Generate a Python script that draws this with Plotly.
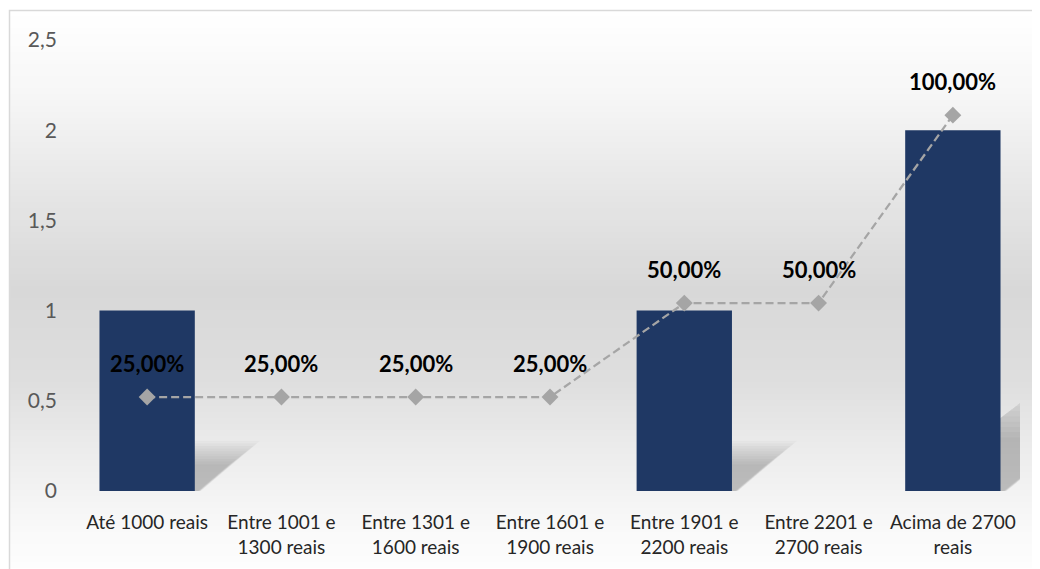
import plotly.graph_objects as go

categories = ["Até 1000 reais", "Entre 1001 e<br>1300 reais", "Entre 1301 e<br>1600 reais",
              "Entre 1601 e<br>1900 reais", "Entre 1901 e<br>2200 reais", "Entre 2201 e<br>2700 reais",
              "Acima de 2700<br>reais"]
counts = [1, 0, 0, 0, 1, 0, 2]
percents = [0.25, 0.25, 0.25, 0.25, 0.50, 0.50, 1.00]
y_ticks = [0, 0.5, 1, 1.5, 2, 2.5]

FONT = "Lato"
W, H = 1040, 569
OX, OY = 8, 8  # page body offset
# plot area in screen pixels
SL, SR, ST, SB = 80, 1020, 40, 491
L, T = SL - OX, ST - OY
R = W - (SR - OX)
B = H - (SB - OY)
PW, PH = SR - SL, SB - ST

def px_to_paper_y(py):
    return (SB - py) / PH

def px_to_paper_x(px):
    return (px - SL) / PW

shapes = []
# vertical gradient background
keys = [(10, 255), (100, 246), (200, 229), (290, 216), (380, 222), (450, 236), (520, 248), (569, 253)]
def shade(py):
    for (a, ca), (b, cb) in zip(keys, keys[1:]):
        if a <= py <= b:
            return ca + (cb - ca) * (py - a) / (b - a)
    return 255
step = 6
py = 10
while py < H:
    c = int(round(shade(py + step / 2)))
    shapes.append(dict(type="rect", xref="paper", yref="paper", layer="below",
                       x0=px_to_paper_x(9), x1=px_to_paper_x(W + 20),
                       y0=px_to_paper_y(min(py + step, H + 10)), y1=px_to_paper_y(py),
                       line=dict(width=0), fillcolor=f"rgb({c},{c},{c})"))
    py += step
# chart border
shapes.append(dict(type="rect", xref="paper", yref="paper", layer="above",
                   x0=px_to_paper_x(9.5), x1=px_to_paper_x(W + 30),
                   y0=px_to_paper_y(H + 30), y1=px_to_paper_y(10.5),
                   line=dict(width=1.5, color="#d9d9d9"), fillcolor="rgba(0,0,0,0)"))
# soft perspective shadows of bars
half = 0.355
for i, v in enumerate(counts):
    if v <= 0:
        continue
    for s in [1.16, 1.1, 1.04, 0.98, 0.92, 0.86, 0.8, 0.74, 0.68, 0.62]:
        hs = 0.24 * v * s
        dx = 0.42 * v * s
        path = (f"M {i - half} 0 L {i + half + 0.04 * s} 0 L {i + half + dx} {hs} "
                f"L {i - half + dx} {hs} Z")
        shapes.append(dict(type="path", xref="x", yref="y", layer="below", path=path,
                           fillcolor="rgba(0,0,0,0.022)", line=dict(width=0)))

fig = go.Figure()
fig.add_trace(go.Bar(x=list(range(len(categories))), y=counts, marker=dict(color="#1f3864", line=dict(width=0)),
                     width=2 * half, hoverinfo="skip"))
fig.add_trace(go.Scatter(x=list(range(len(categories))), y=percents, yaxis="y2", mode="lines+markers",
                         line=dict(color="#a5a5a5", width=2.25, dash="8px,4px"),
                         marker=dict(symbol="diamond", size=13, color="#a5a5a5"), hoverinfo="skip"))

annotations = []
for i, p in enumerate(percents):
    annotations.append(dict(x=i, y=p, xref="x", yref="y2", yshift=34, showarrow=False,
                            text=f"{p * 100:.2f}%".replace(".", ","),
                            font=dict(family=FONT, size=22, color="#000000", weight="bold")))

fig.update_layout(
    width=W, height=H, margin=dict(l=L, r=R, t=T, b=B),
    paper_bgcolor="white", plot_bgcolor="rgba(0,0,0,0)",
    separators=",.", showlegend=False, shapes=shapes, annotations=annotations,
    xaxis=dict(tickmode="array", tickvals=list(range(len(categories))), ticktext=categories,
               range=[-0.5, len(categories) - 0.5], showgrid=False, zeroline=False, showline=False,
               ticks="", ticklabelstandoff=18, tickfont=dict(family=FONT, size=19, color="#262626")),
    yaxis=dict(range=[0, 2.5], tickvals=y_ticks, showgrid=False, zeroline=False, showline=False,
               ticks="", ticklabelstandoff=22, tickfont=dict(family=FONT, size=21, color="#595959")),
    yaxis2=dict(range=[0, 1.2], overlaying="y", side="right", visible=False),
)
fig.write_html("out.html")
